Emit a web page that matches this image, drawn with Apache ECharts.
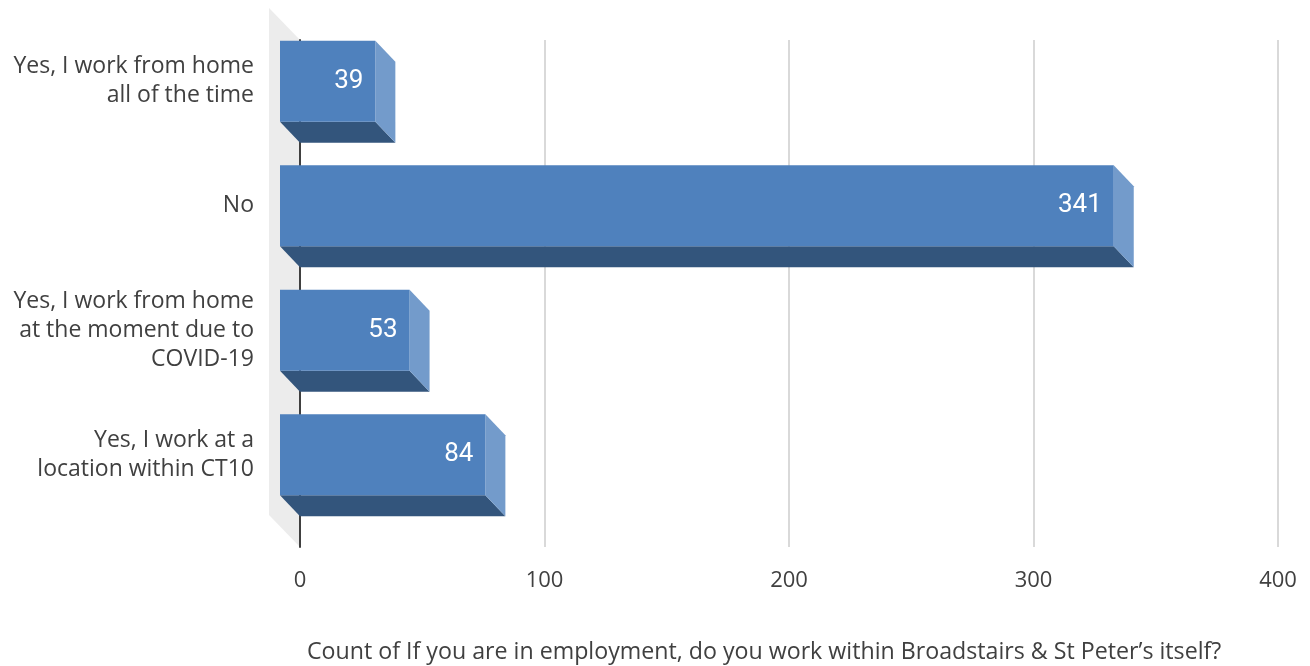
<!DOCTYPE html>
<html>
<head>
<meta charset="utf-8">
<script src="https://cdn.jsdelivr.net/npm/echarts@6/dist/echarts.min.js"></script>
<style>html,body{margin:0;padding:0;background:#fff}#c{width:1310px;height:666px}</style>
</head>
<body>
<div id="c"></div>
<script>
const categories = [
  "Yes, I work from home\nall of the time",
  "No",
  "Yes, I work from home\nat the moment due to\nCOVID-19",
  "Yes, I work at a\nlocation within CT10"
];
const values = [39, 341, 53, 84];
const xTicks = [0, 100, 200, 300, 400];
const axisTitle = "Count of If you are in employment, do you work within Broadstairs & St Peter\u2019s itself?";

const FONT = "'Open Sans', sans-serif";
const DX = 20, DY = 21;       // depth offset of the bar faces
const WDX = 31, WDY = 32;     // depth offset of the back wall

const chart = echarts.init(document.getElementById('c'), null, {renderer: 'canvas'});

function renderBar(params, api) {
  const cat = api.value(0);
  const val = api.value(1);
  const p0 = api.coord([0, cat]);
  const p1 = api.coord([val, cat]);
  const band = api.size([0, 1])[1];
  const h = band * 0.652;
  const yc = p0[1];
  const yT = yc - h / 2, yB = yc + h / 2;
  const x0 = p0[0], x1 = p1[0];
  return {
    type: 'group',
    children: [
      { type: 'polygon', shape: { points: [[x0 - DX, yB - DY], [x1 - DX, yB - DY], [x1, yB], [x0, yB]] },
        style: { fill: '#33557c' } },
      { type: 'polygon', shape: { points: [[x1 - DX, yT - DY], [x1, yT], [x1, yB], [x1 - DX, yB - DY]] },
        style: { fill: '#739bcb' } },
      { type: 'rect', shape: { x: x0 - DX, y: yT - DY, width: x1 - x0, height: h },
        style: { fill: '#4f81bd' } },
      { type: 'text', x: x1 - DX - 12, y: yc - DY,
        style: { text: String(val), fill: '#ffffff', font: "26px Roboto, sans-serif", align: 'right', verticalAlign: 'middle' } }
    ]
  };
}

function renderWall(params, api) {
  const cs = params.coordSys;
  const x = cs.x, yT = cs.y, yB = cs.y + cs.height;
  return {
    type: 'polygon',
    shape: { points: [[x - WDX, yT - WDY], [x, yT], [x, yB], [x - WDX, yB - WDY]] },
    style: { fill: '#ececec' }
  };
}

chart.setOption({
  animation: false,
  backgroundColor: '#ffffff',
  title: {
    text: axisTitle,
    left: 302, top: 636,
    textStyle: { fontFamily: FONT, fontSize: 23.2, fontWeight: 'normal', color: '#404040' }
  },
  grid: [
    { left: 300, right: 32, top: 40, height: 507 },
    { left: 300, right: 32, top: 40, height: 498 },
    { left: 300, right: 32, top: 40 - DY, height: 498 }
  ],
  xAxis: [
    { gridIndex: 0, type: 'value', min: xTicks[0], max: xTicks[xTicks.length - 1], interval: 100,
      axisLine: { show: false }, axisTick: { show: false },
      splitLine: { show: true, lineStyle: { color: '#d9d9d9', width: 2 } },
      axisLabel: { margin: 23, fontFamily: FONT, fontSize: 22, color: '#404040' } },
    { gridIndex: 1, type: 'value', min: xTicks[0], max: xTicks[xTicks.length - 1], interval: 100,
      show: false },
    { gridIndex: 2, type: 'value', min: xTicks[0], max: xTicks[xTicks.length - 1], interval: 100,
      show: false }
  ],
  yAxis: [
    { gridIndex: 0, type: 'value', min: 0, max: 1,
      axisLine: { show: true, lineStyle: { color: '#404040', width: 2 } },
      axisTick: { show: false }, axisLabel: { show: false }, splitLine: { show: false } },
    { gridIndex: 1, type: 'category', data: categories, inverse: true,
      axisLine: { show: false }, axisTick: { show: false }, splitLine: { show: false },
      axisLabel: { show: false } },
    { gridIndex: 2, type: 'category', data: categories, inverse: true,
      axisLine: { show: false }, axisTick: { show: false }, splitLine: { show: false },
      axisLabel: { margin: 46, fontFamily: FONT, fontSize: 23, color: '#404040', lineHeight: 29,
        align: 'right' } }
  ],
  series: [
    { type: 'custom', xAxisIndex: 0, yAxisIndex: 0, z: -5, silent: true,
      renderItem: renderWall, data: [[0, 0]] },
    { type: 'custom', xAxisIndex: 1, yAxisIndex: 1, z: 5,
      renderItem: renderBar,
      encode: { x: 1, y: 0 },
      data: values.map((v, i) => [i, v]) }
  ]
});
</script>
</body>
</html>
